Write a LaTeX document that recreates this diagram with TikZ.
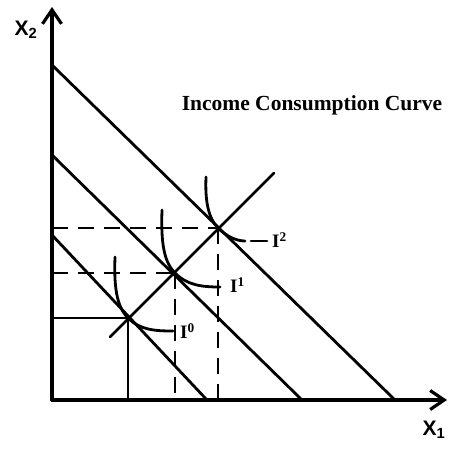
\documentclass[tikz,border=0pt]{standalone}
\usepackage{fontspec}
\setmainfont{Liberation Serif}
\setsansfont{Liberation Sans}
\usetikzlibrary{arrows.meta}

\begin{document}
\begin{tikzpicture}[
  x=1pt, y=-1pt,
  line cap=round, line join=round,
  axis/.style={line width=3.2pt, -{Straight Barb[length=14pt, width=19pt, line width=3.2pt]}},
  budget/.style={line width=2.8pt},
  guide/.style={line width=2.8pt},
  dguide/.style={line width=2.8pt, line cap=butt, dash pattern=on 16pt off 10pt},
  indiff/.style={line width=2.8pt},
  lbl/.style={font=\bfseries\fontsize{19}{19}\selectfont, inner sep=0pt, anchor=west},
  axlbl/.style={font=\sffamily\bfseries\fontsize{21}{21}\selectfont, inner sep=0pt}
]

  \useasboundingbox (0,0) rectangle (454,450);

  % ── Axes ──────────────────────────────────────────────────────────────────

  \coordinate (O)  at (52,400);
  \coordinate (yt) at (52,7);
  \coordinate (xt) at (447,400);
  \draw[axis] (O) -- (yt);
  \draw[axis] (O) -- (xt);

  \node[axlbl] (xtwo) at (26,30)  {X\textsubscript{2}};
  \node[axlbl] (xone) at (434,430) {X\textsubscript{1}};

  % ── Budget lines ──────────────────────────────────────────────────────────

  \coordinate (b0y) at (52,235);  \coordinate (b0x) at (207,400);
  \coordinate (b1y) at (52,155);  \coordinate (b1x) at (302,400);
  \coordinate (b2y) at (52,65);   \coordinate (b2x) at (395,400);
  \foreach \k in {0,1,2}
    \draw[budget] (b\k y) -- (b\k x);

  % ── Income consumption curve ──────────────────────────────────────────────

  \coordinate (E0) at (128,318);
  \coordinate (E1) at (175,273);
  \coordinate (E2) at (218,228);
  \coordinate (icca) at (110,337);
  \coordinate (iccb) at (274,173);
  \draw[budget] (icca) -- (iccb);

  \node[font=\bfseries\fontsize{21.5}{21.5}\selectfont, inner sep=0pt] (title)
    at (312,105) {Income Consumption Curve};

  % ── Guides to the axes ────────────────────────────────────────────────────

  \draw[guide]  (E0 -| O) -- (E0) -- (E0 |- O);
  \draw[dguide] (E1 -| O) -- (E1);
  \draw[dguide] (E1) -- (E1 |- O);
  \draw[dguide] (E2 -| O) -- (E2);
  \draw[dguide] (E2) -- (E2 |- O);

  % ── Indifference curves ───────────────────────────────────────────────────

  \draw[indiff] (115,257) .. controls (114,285) and (116,306) .. (E0)
                .. controls (140,330) and (155,331) .. (173,331);
  \draw[indiff] (162,210) .. controls (161,240) and (163,261) .. (E1)
                .. controls (187,285) and (201,287) .. (220,287);
  \draw[indiff] (206,177) .. controls (205,200) and (208,218) .. (E2)
                .. controls (226,236) and (236,241) .. (245,241);

  \node[lbl] (I0) at (180,331) {I\textsuperscript{0}};
  \node[lbl] (I1) at (230,285) {I\textsuperscript{1}};
  \node[lbl] (I2) at (272,240) {I\textsuperscript{2}};
  \draw[guide] (I2.west) ++(-21,1) coordinate (lead) -- ++(16,0);

\end{tikzpicture}
\end{document}
